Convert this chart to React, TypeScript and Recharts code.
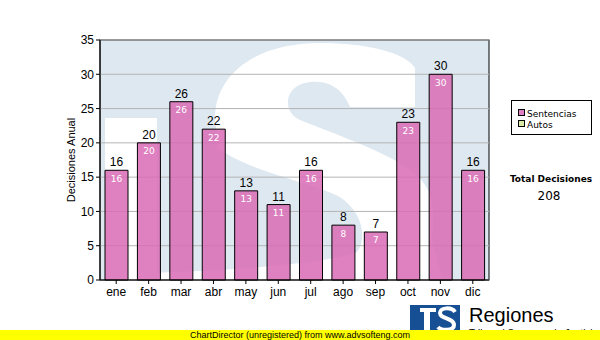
import React from 'react';
import { BarChart, Bar, XAxis, YAxis, CartesianGrid, LabelList } from 'recharts';

const months = ['ene', 'feb', 'mar', 'abr', 'may', 'jun', 'jul', 'ago', 'sep', 'oct', 'nov', 'dic'];
const sentencias = [16, 20, 26, 22, 13, 11, 16, 8, 7, 23, 30, 16];
const yTicks = [0, 5, 10, 15, 20, 25, 30, 35];
const seriesNames = ['Sentencias', 'Autos'];
const seriesColors = ['#de80c2', '#d8eaa6'];
const total = sentencias.reduce((a, b) => a + b, 0);

const data = months.map((m, i) => ({ month: m, sentencias: sentencias[i] }));

const PLOT = { x: 100, y: 40, w: 389, h: 240 };
const BG = '#dee8f1';
const AX = 'Liberation Sans, Arial, sans-serif';
const VF = 'DejaVu Sans, Verdana, sans-serif';

const S_PATH =
  'M 415 68 C 405 52, 365 43, 320 43 C 255 43, 215 75, 215 118 L 218 148 ' +
  'C 250 172, 310 182, 338 196 C 362 210, 368 238, 357 252 ' +
  'C 330 262, 260 268, 200 271 L 150 273 L 150 290 L 445 290 L 432 240 ' +
  'C 435 210, 432 195, 425 185 ' +
  'C 410 160, 350 140, 300 120 C 282 112, 283 85, 310 82 C 335 80, 345 95, 350 107 ' +
  'L 415 107 Z';

function Watermark() {
  return (
    <svg width={600} height={340} style={{ position: 'absolute', left: 0, top: 0 }}>
      <defs>
        <clipPath id="plotclip">
          <rect x={PLOT.x} y={PLOT.y} width={PLOT.w} height={PLOT.h} />
        </clipPath>
      </defs>
      <rect x={PLOT.x} y={PLOT.y} width={PLOT.w} height={PLOT.h} fill={BG} />
      <g clipPath="url(#plotclip)">
        <rect x={105} y={118} width={52} height={170} fill="#ffffff" />
        <path d={S_PATH} fill="#ffffff" />
      </g>
      <rect x={PLOT.x} y={PLOT.y} width={PLOT.w} height={PLOT.h} fill="none" stroke="#000" strokeWidth={1} />
    </svg>
  );
}

function Overlay() {
  return (
    <svg width={600} height={340} style={{ position: 'absolute', left: 0, top: 0, pointerEvents: 'none' }}>
      <text
        x={75}
        y={160}
        transform="rotate(-90 75 160)"
        textAnchor="middle"
        fontFamily={AX}
        fontSize={11}
        fill="#000"
      >
        Decisiones Anual
      </text>
      <rect x={511.5} y={100.5} width={80} height={34} fill="#fff" stroke="#000" />
      {seriesNames.map((n, i) => (
        <g key={n}>
          <rect x={518.5} y={109.5 + i * 11} width={6} height={6} fill={seriesColors[i]} stroke="#000" />
          <text x={527} y={116.5 + i * 11} fontFamily={VF} fontSize={9} fill="#000">
            {n}
          </text>
        </g>
      ))}
      <text x={551} y={182} textAnchor="middle" fontFamily={VF} fontSize={9} fontWeight="bold" fill="#000">
        Total Decisiones
      </text>
      <text x={549} y={200} textAnchor="middle" fontFamily={VF} fontSize={12} fill="#000">
        {total}
      </text>
      <rect x={410} y={305} width={50} height={30} fill="#174f94" />
      <path d="M 420 308 L 436 308 L 436 312 L 430 312 L 430 330 L 424 330 L 424 312 L 420 312 Z" fill="#fff" />
      <path
        d="M 455 312 C 452 307, 440 307, 440 313 C 440 319, 454 318, 454 325 C 454 331, 441 331, 438 327"
        fill="none"
        stroke="#fff"
        strokeWidth={4}
      />
      <text x={469} y={322} fontFamily={AX} fontSize={20} fill="#000">
        Regiones
      </text>
      <text x={469} y={337} fontFamily={AX} fontSize={10} fill="#000">
        Tribunal Supremo de Justicia
      </text>
      <rect x={0} y={330} width={600} height={10} fill="#ffff00" />
      <text x={300} y={338} textAnchor="middle" fontFamily={AX} fontSize={9} fill="#000">
        ChartDirector (unregistered) from www.advsofteng.com
      </text>
    </svg>
  );
}

export default function App() {
  return (
    <div style={{ position: 'absolute', left: 0, top: 0, width: 600, height: 340, background: '#fff', overflow: 'hidden' }}>
      <Watermark />
      <div style={{ position: 'absolute', left: 0, top: 0 }}>
        <BarChart width={600} height={340} data={data} margin={{ top: 40, right: 111, bottom: 0, left: 0 }}>
          <CartesianGrid vertical={false} stroke="#b4b4b4" strokeWidth={1} />
          <XAxis
            dataKey="month"
            height={60}
            tickSize={4}
            tickMargin={3}
            axisLine={{ stroke: '#000' }}
            tickLine={{ stroke: '#000' }}
            tick={{ fill: '#000', fontSize: 12, fontFamily: AX }}
            interval={0}
          />
          <YAxis
            width={100}
            domain={[0, 35]}
            ticks={yTicks}
            tickSize={4}
            tickMargin={2}
            axisLine={{ stroke: '#000' }}
            tickLine={{ stroke: '#000' }}
            tick={{ fill: '#000', fontSize: 12, fontFamily: AX }}
          />
          <Bar
            dataKey="sentencias"
            barSize={23}
            fill="#d96bb5"
            fillOpacity={0.85}
            stroke="#000"
            strokeWidth={1}
            isAnimationActive={false}
          >
            <LabelList dataKey="sentencias" position="top" offset={4} fill="#000" fontSize={12} fontFamily={AX} />
            <LabelList dataKey="sentencias" position="insideTop" offset={5} fill="#fff" fontSize={9} fontFamily={VF} />
          </Bar>
        </BarChart>
      </div>
      <Overlay />
    </div>
  );
}
